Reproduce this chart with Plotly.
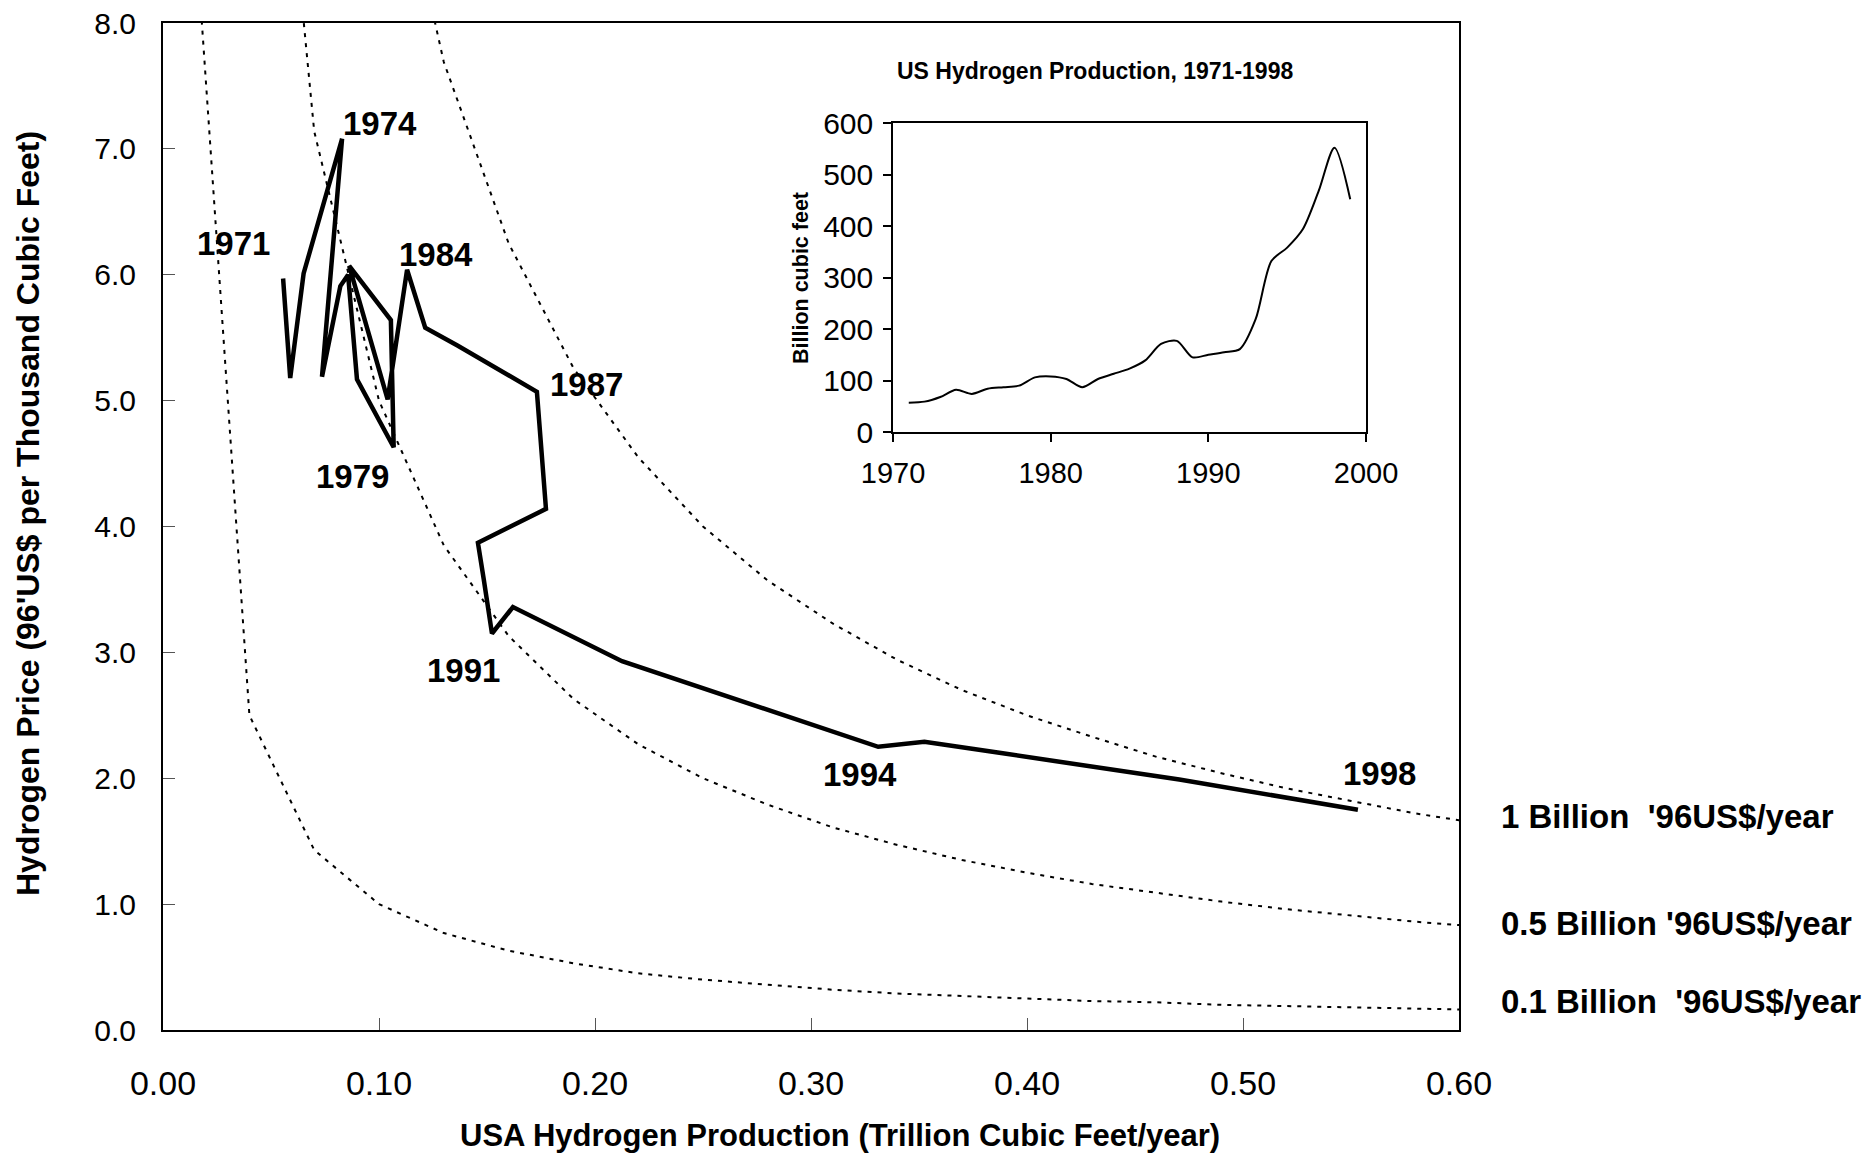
import plotly.graph_objects as go

# main path: production (trillion ft3/yr) vs price ('96 US$ per thousand ft3), 1971-1998
years = list(range(1971, 1999))
production_tcf = [0.0556, 0.0589, 0.0651, 0.0829, 0.0736, 0.0821, 0.0857, 0.0898, 0.1068, 0.1062,
                  0.1055, 0.0862, 0.1040, 0.1130, 0.1214, 0.1361, 0.1731, 0.1773, 0.1458, 0.1485,
                  0.1523, 0.1620, 0.2125, 0.3311, 0.3525, 0.3880, 0.4705, 0.5532]
price_usd = [5.97, 5.18, 6.01, 7.08, 5.19, 5.91, 6.00, 5.17, 4.63, 5.00,
             5.64, 6.07, 5.01, 6.04, 5.58, 5.44, 5.07, 4.14, 3.87, 3.58,
             3.15, 3.36, 2.93, 2.25, 2.29, 2.20, 1.99, 1.75]

# iso-revenue reference curves, sampled as in the original sheet
iso_x = [0.01, 0.04, 0.07, 0.10, 0.13, 0.16, 0.19, 0.22, 0.25, 0.28, 0.31,
         0.34, 0.37, 0.40, 0.43, 0.46, 0.49, 0.52, 0.55, 0.58, 0.61]
iso_1_0 = [100.0, 25.0, 14.29, 10.0, 7.69, 6.25, 5.26, 4.55, 4.0, 3.57, 3.23,
           2.94, 2.70, 2.50, 2.33, 2.17, 2.04, 1.92, 1.82, 1.72, 1.64]
iso_0_5 = [50.0, 12.5, 7.14, 5.0, 3.85, 3.13, 2.63, 2.27, 2.0, 1.79, 1.61,
           1.47, 1.35, 1.25, 1.16, 1.09, 1.02, 0.96, 0.91, 0.86, 0.82]
iso_0_1 = [10.0, 2.5, 1.43, 1.0, 0.77, 0.63, 0.53, 0.45, 0.40, 0.36, 0.32,
           0.29, 0.27, 0.25, 0.23, 0.22, 0.20, 0.19, 0.18, 0.17, 0.16]
iso_labels = ["1 Billion  '96US$/year", "0.5 Billion '96US$/year", "0.1 Billion  '96US$/year"]

# year labels on the path
label_text = ["1971", "1974", "1984", "1987", "1979", "1991", "1994", "1998"]
label_x = [0.0325, 0.1006, 0.1265, 0.1962, 0.0878, 0.1393, 0.3229, 0.5634]
label_y = [6.25, 7.20, 6.16, 5.13, 4.40, 2.86, 2.03, 2.04]

# inset: US hydrogen production, billion cubic feet
inset_years = list(range(1971, 2000))
inset_bcf = [57, 59, 68, 82, 74, 84, 87, 90, 106, 108,
             103, 87, 103, 113, 123, 139, 171, 177, 145, 150,
             155, 161, 219, 332, 358, 394, 468, 552, 452]

FONT = "Liberation Sans, Arial, sans-serif"
PAGE = 8  # default body margin of the html page
W, H = 1873 - PAGE, 1153 - PAGE
L, R, T, B = 163 - PAGE, 1459 - PAGE, 23 - PAGE, 1030 - PAGE


def px_x(px):
    return (px - PAGE - L) / (R - L)


def px_y(py):
    return (B - (py - PAGE)) / (B - T)


fig = go.Figure()

for ys in (iso_1_0, iso_0_5, iso_0_1):
    fig.add_trace(go.Scatter(x=iso_x, y=ys, mode="lines",
                             line=dict(color="black", width=2, dash="4px,6px")))

fig.add_trace(go.Scatter(x=production_tcf, y=price_usd, mode="lines",
                         line=dict(color="black", width=4.5)))

fig.add_trace(go.Scatter(x=inset_years, y=inset_bcf, mode="lines", xaxis="x2", yaxis="y2",
                         line=dict(color="black", width=2, shape="spline", smoothing=0.8)))

annotations = []
for t, x, y in zip(label_text, label_x, label_y):
    annotations.append(dict(x=x, y=y, xref="x", yref="y", text=t, showarrow=False,
                            xanchor="center", yanchor="middle",
                            font=dict(family=FONT, size=33, color="black", weight="bold")))

for t, py in zip(iso_labels, [816, 923, 1001]):
    annotations.append(dict(x=px_x(1499), y=px_y(py), xref="paper", yref="paper", text=t,
                            showarrow=False, xanchor="left", yanchor="middle",
                            font=dict(family=FONT, size=33, color="black", weight="bold")))

annotations.append(dict(x=px_x(840), y=px_y(1135), xref="paper", yref="paper",
                        text="USA Hydrogen Production (Trillion Cubic Feet/year)",
                        showarrow=False, xanchor="center", yanchor="middle",
                        font=dict(family=FONT, size=31, color="black", weight="bold")))
annotations.append(dict(x=px_x(28), y=px_y(514), xref="paper", yref="paper",
                        text="Hydrogen Price (96'US$ per Thousand Cubic Feet)",
                        showarrow=False, textangle=-90, xanchor="center", yanchor="middle",
                        font=dict(family=FONT, size=32, color="black", weight="bold")))
annotations.append(dict(x=px_x(1095), y=px_y(71), xref="paper", yref="paper",
                        text="US Hydrogen Production, 1971-1998",
                        showarrow=False, xanchor="center", yanchor="middle",
                        font=dict(family=FONT, size=23, color="black", weight="bold")))
annotations.append(dict(x=px_x(801), y=px_y(278), xref="paper", yref="paper",
                        text="Billion cubic feet", textangle=-90,
                        showarrow=False, xanchor="center", yanchor="middle",
                        font=dict(family=FONT, size=21.5, color="black", weight="bold")))

axis_common = dict(showgrid=False, zeroline=False, showline=True, mirror=True,
                   linecolor="black", color="black", automargin=False,
                   ticklabeloverflow="allow")

fig.update_layout(
    template="none",
    width=W, height=H,
    margin=dict(l=L, r=W - R, t=T, b=H - B, pad=0, autoexpand=False),
    paper_bgcolor="white", plot_bgcolor="white",
    showlegend=False,
    font=dict(family=FONT, color="black"),
    xaxis=dict(range=[0, 0.6], dtick=0.1, tickformat=".2f", linewidth=2,
               ticks="inside", ticklen=12, tickwidth=1, tickcolor="#555",
               ticklabelstandoff=22, tickfont=dict(size=34), domain=[0, 1], **axis_common),
    yaxis=dict(range=[0, 8], dtick=1, tickformat=".1f", linewidth=2,
               ticks="inside", ticklen=12, tickwidth=1, tickcolor="#555",
               ticklabelstandoff=19, tickfont=dict(size=30), domain=[0, 1], **axis_common),
    xaxis2=dict(range=[1970, 2000], dtick=10, linewidth=1.5, anchor="y2",
                ticks="outside", ticklen=8, tickwidth=1.5, tickcolor="black",
                ticklabelstandoff=6, tickfont=dict(size=29),
                domain=[px_x(893), px_x(1366)], **axis_common),
    yaxis2=dict(range=[0, 600], dtick=100, linewidth=1.5, anchor="x2",
                ticks="outside", ticklen=8, tickwidth=1.5, tickcolor="black",
                ticklabelstandoff=4, tickfont=dict(size=30),
                domain=[px_y(432), px_y(123)], **axis_common),
    annotations=annotations,
)

fig.write_html("out.html")
